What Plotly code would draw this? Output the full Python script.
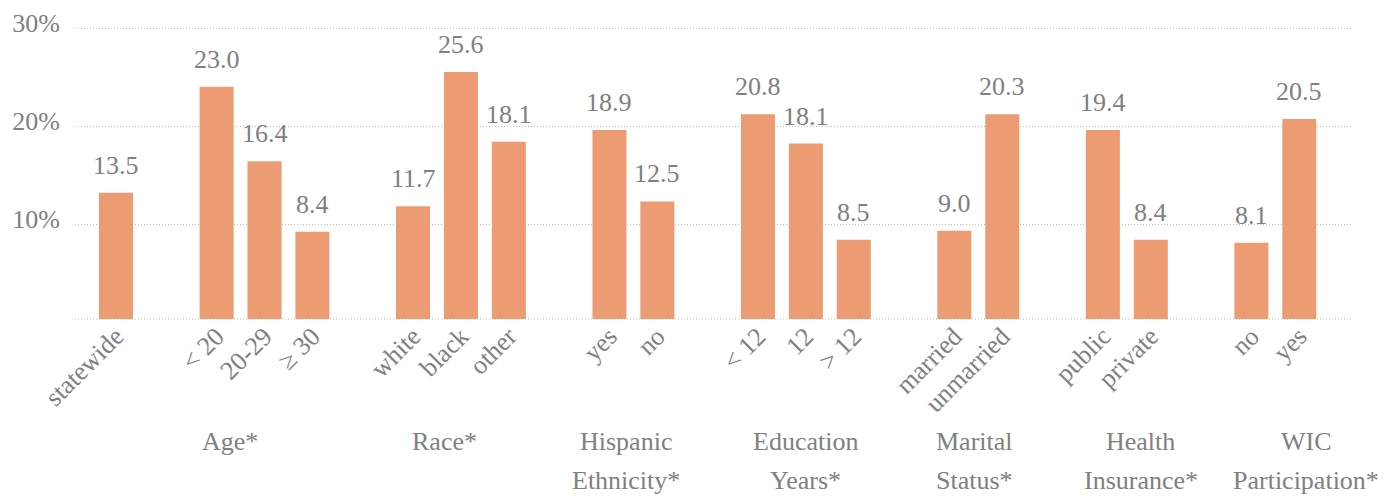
import plotly.graph_objects as go

# ---------------- data ----------------
categories = ["statewide", "< 20", "20-29", "≥ 30", "white", "black", "other",
              "yes", "no", "< 12", "12", "> 12", "married", "unmarried",
              "public", "private", "no", "yes"]
category_group = [0, 1, 1, 1, 2, 2, 2, 3, 3, 4, 4, 4, 5, 5, 6, 6, 7, 7]
# bar heights as drawn in the picture (percent)
bar_values = [13.3, 24.1, 16.5, 9.3, 11.9, 25.6, 18.5, 19.7, 12.4,
              21.3, 18.3, 8.5, 9.4, 21.3, 19.7, 8.5, 8.2, 20.8]
# printed value labels
value_labels = ["13.5", "23.0", "16.4", "8.4", "11.7", "25.6", "18.1", "18.9", "12.5",
                "20.8", "18.1", "8.5", "9.0", "20.3", "19.4", "8.4", "8.1", "20.5"]
group_line1 = ["", "Age*", "Race*", "Hispanic", "Education", "Marital", "Health", "WIC"]
group_line2 = ["", "", "", "Ethnicity*", "Years*", "Status*", "Insurance*", "Participation*"]
y_ticks = [10, 20, 30]
y_tick_labels = ["10%", "20%", "30%"]

# ---------------- layout / style ----------------
GROUP_GAP = 1.1
BAR_COLOR = "#EC9B72"
TEXT_COLOR = "#808080"
GRID_COLOR = "#BDBDBD"
GRID_DASH = "1px,2px"
FONT = "Liberation Serif, Times New Roman, serif"
FS = 26
label_xshift = [0, -35, -16, -7, 0, -4, 14, 31]

# positions computed from group structure
xpos = []
p = 0.0
for i, g in enumerate(category_group):
    if i > 0:
        p += 1 + (GROUP_GAP if g != category_group[i - 1] else 0)
    xpos.append(p)

fig = go.Figure()
fig.add_trace(go.Bar(x=xpos, y=bar_values, width=0.71,
                     marker=dict(color=BAR_COLOR, line=dict(width=0)),
                     hoverinfo="skip"))

annotations = []
for x, v, t in zip(xpos, bar_values, value_labels):
    annotations.append(dict(x=x, y=v, xref="x", yref="y", text=t, showarrow=False,
                            yanchor="bottom", yshift=11,
                            font=dict(family=FONT, size=FS, color=TEXT_COLOR)))

for gi in range(len(group_line1)):
    members = [xpos[i] for i, g in enumerate(category_group) if g == gi]
    cx = sum(members) / len(members)
    for line, ypaper in ((group_line1[gi], -0.415), (group_line2[gi], -0.548)):
        if line:
            annotations.append(dict(x=cx, y=ypaper, xref="x", yref="paper", text=line,
                                    showarrow=False, yanchor="middle", xanchor="center",
                                    xshift=label_xshift[gi],
                                    font=dict(family=FONT, size=FS, color=TEXT_COLOR)))

fig.update_layout(
    width=1398, height=496,
    margin=dict(l=75, r=46, t=25, b=177, autoexpand=False),
    paper_bgcolor="white", plot_bgcolor="white",
    showlegend=False,
    font=dict(family=FONT, size=FS, color=TEXT_COLOR),
    annotations=annotations,
    shapes=[dict(type="line", xref="paper", yref="paper", x0=0, x1=1, y0=0, y1=0,
                 line=dict(color=GRID_COLOR, width=1, dash=GRID_DASH), layer="below")],
    xaxis=dict(range=[-0.856, 25.8], tickmode="array", tickvals=xpos, ticktext=categories,
               tickangle=-45, showgrid=False, zeroline=False, showline=False, ticks="",
               automargin=False, ticklabelstandoff=-4,
               tickfont=dict(family=FONT, size=FS, color=TEXT_COLOR)),
    yaxis=dict(range=[0.41, 30.4], tickmode="array", tickvals=y_ticks, ticktext=y_tick_labels,
               showgrid=True, gridcolor=GRID_COLOR, griddash=GRID_DASH, gridwidth=1,
               zeroline=False, showline=False, ticks="", automargin=False,
               ticklabelstandoff=14, ticklabelshift=-6,
               tickfont=dict(family=FONT, size=FS, color=TEXT_COLOR)),
)

fig.write_html("out.html", config={"displayModeBar": False},
               post_script="document.body.style.margin='0';")
